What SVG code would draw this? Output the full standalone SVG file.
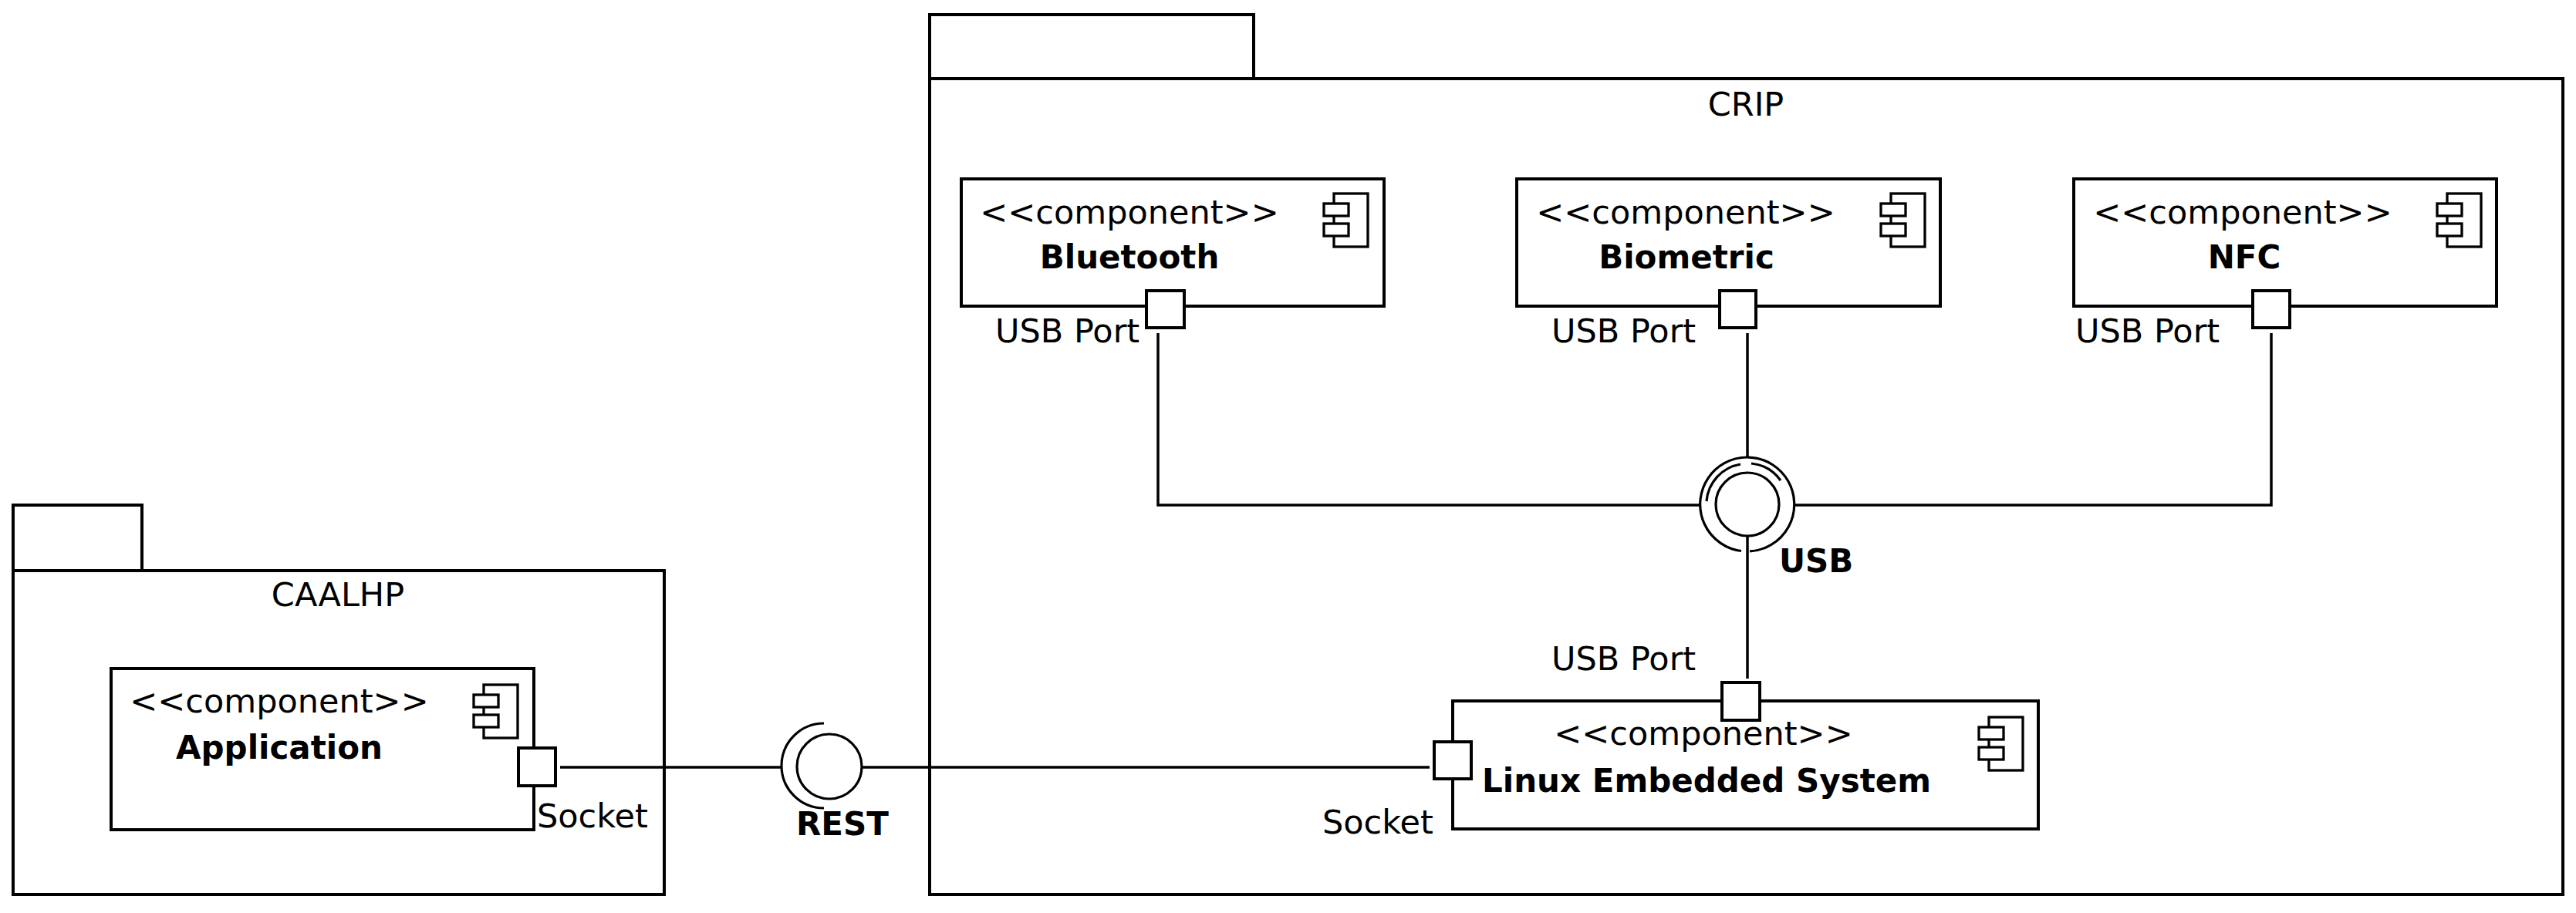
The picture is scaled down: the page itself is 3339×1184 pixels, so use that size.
<svg xmlns="http://www.w3.org/2000/svg" xmlns:xlink="http://www.w3.org/1999/xlink" width="3339" height="1184" viewBox="0 0 3339 1184">
<style>
.pkg{fill:#fff;stroke:#000;stroke-width:4}
.box{fill:#fff;stroke:#000;stroke-width:4}
.port{fill:#fff;stroke:#000;stroke-width:4}
.ic{fill:#fff;stroke:#000;stroke-width:3.3}
.ln{fill:none;stroke:#000;stroke-width:3.5}
.ring{fill:none;stroke:#000;stroke-width:3.2}
.t{font-family:"DejaVu Sans","Liberation Sans",sans-serif;font-size:43px;fill:#000}
.b{font-family:"DejaVu Sans","Liberation Sans",sans-serif;font-size:42px;font-weight:bold;fill:#000}
</style>
<defs>
<g id="cicon">
<rect class="ic" x="0" y="0" width="44" height="69"/>
<rect class="ic" x="-13" y="13" width="32" height="16"/>
<rect class="ic" x="-13" y="39" width="32" height="16"/>
</g>
</defs>
<rect width="3339" height="1184" fill="#fff"/>

<g id="pkg-caalhp">
<rect class="pkg" x="17" y="655" width="167" height="85"/>
<rect class="pkg" x="17" y="740" width="844" height="420"/>
<text class="t" x="438" y="786" text-anchor="middle">CAALHP</text>
</g>

<g id="pkg-crip">
<rect class="pkg" x="1205" y="19" width="420" height="83"/>
<rect class="pkg" x="1205" y="102" width="2117" height="1058"/>
<text class="t" x="2263" y="150" text-anchor="middle">CRIP</text>
</g>

<g id="connectors">
<polyline class="ln" points="1501,432 1501,655 2204,655"/>
<line class="ln" x1="2265" y1="432" x2="2265" y2="593"/>
<polyline class="ln" points="2944,432 2944,655 2326,655"/>
<line class="ln" x1="2265" y1="695" x2="2265" y2="880"/>
<line class="ln" x1="726" y1="995" x2="1013" y2="995"/>
<line class="ln" x1="1117" y1="995" x2="1853" y2="995"/>
</g>

<g id="iface-usb">
<circle class="ring" cx="2265" cy="654" r="41"/>
<path class="ring" d="M 2257 714.5 A 61 61 0 1 1 2268 714.9"/>
<path class="ring" d="M 2212 650 A 53 53 0 0 1 2256 602"/>
<path class="ring" d="M 2270 601 A 53 53 0 0 1 2308 623"/>
<text class="b" x="2306" y="742">USB</text>
</g>

<g id="iface-rest">
<circle class="ring" cx="1075" cy="994" r="42"/>
<path class="ring" d="M 1068 938 A 55 55 0 0 0 1068 1048"/>
<text class="b" x="1032" y="1083">REST</text>
</g>

<g id="comp-application">
<rect class="box" x="144" y="867" width="548" height="209"/>
<use xlink:href="#cicon" href="#cicon" x="627" y="888"/>
<text class="t" x="362" y="924" text-anchor="middle">&lt;&lt;component&gt;&gt;</text>
<text class="b" x="362" y="984" text-anchor="middle">Application</text>
<rect class="port" x="672" y="970" width="48" height="49"/>
<text class="t" x="696" y="1073">Socket</text>
</g>

<g id="comp-bluetooth">
<rect class="box" x="1246" y="232" width="548" height="165"/>
<use xlink:href="#cicon" href="#cicon" x="1729" y="251"/>
<text class="t" x="1464" y="290" text-anchor="middle">&lt;&lt;component&gt;&gt;</text>
<text class="b" x="1464" y="348" text-anchor="middle">Bluetooth</text>
<rect class="port" x="1486" y="377" width="49" height="48"/>
<text class="t" x="1290" y="444">USB Port</text>
</g>

<g id="comp-biometric">
<rect class="box" x="1966" y="232" width="549" height="165"/>
<use xlink:href="#cicon" href="#cicon" x="2451" y="251"/>
<text class="t" x="2185" y="290" text-anchor="middle">&lt;&lt;component&gt;&gt;</text>
<text class="b" x="2186" y="348" text-anchor="middle">Biometric</text>
<rect class="port" x="2229" y="377" width="47" height="48"/>
<text class="t" x="2011" y="444">USB Port</text>
</g>

<g id="comp-nfc">
<rect class="box" x="2688" y="232" width="548" height="165"/>
<use xlink:href="#cicon" href="#cicon" x="3172" y="251"/>
<text class="t" x="2907" y="290" text-anchor="middle">&lt;&lt;component&gt;&gt;</text>
<text class="b" x="2909" y="348" text-anchor="middle">NFC</text>
<rect class="port" x="2920" y="377" width="48" height="48"/>
<text class="t" x="2690" y="444">USB Port</text>
</g>

<g id="comp-linux">
<rect class="box" x="1883" y="909" width="759" height="166"/>
<use xlink:href="#cicon" href="#cicon" x="2578" y="930"/>
<text class="t" x="2208" y="966" text-anchor="middle">&lt;&lt;component&gt;&gt;</text>
<text class="b" x="2212" y="1027" text-anchor="middle">Linux Embedded System</text>
<rect class="port" x="2232" y="885" width="49" height="49"/>
<rect class="port" x="1859" y="962" width="48" height="48"/>
<text class="t" x="2011" y="869">USB Port</text>
<text class="t" x="1714" y="1081">Socket</text>
</g>
</svg>
